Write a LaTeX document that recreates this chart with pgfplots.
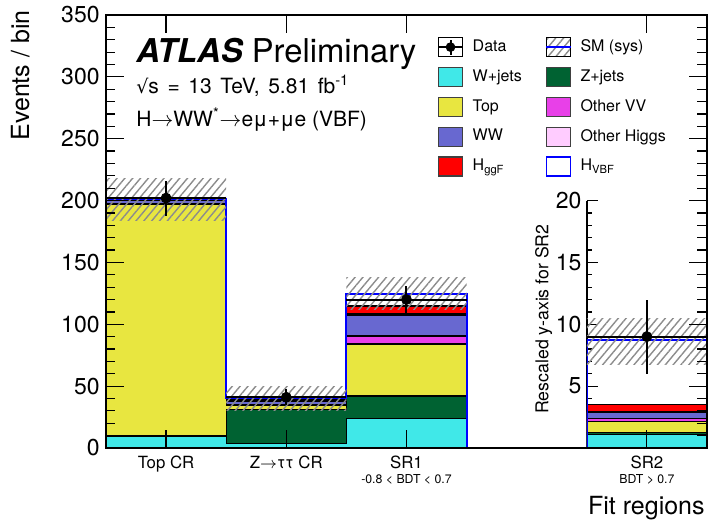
\documentclass[border=0pt]{standalone}
\usepackage{pgfplots}
\pgfplotsset{compat=1.18}
\usepackage{pgfplotstable}
\usepackage{fontspec}
\setmainfont{TeX Gyre Heros}
\newfontfamily\symfont{DejaVu Sans}
\usetikzlibrary{patterns.meta}

\definecolor{cWjets}{RGB}{64,232,232}
\definecolor{cZjets}{RGB}{0,98,50}
\definecolor{cTop}{RGB}{232,230,64}
\definecolor{cVV}{RGB}{232,64,232}
\definecolor{cWW}{RGB}{104,104,208}
\definecolor{cOH}{RGB}{255,204,255}
\definecolor{cggF}{RGB}{255,0,0}
\definecolor{cVBF}{RGB}{0,0,255}
\definecolor{cHatch}{RGB}{140,140,140}

% cumulative stack heights (upper edge of each component) at the left bin edges;
% the last row closes the last bin
\pgfplotstableread{
x  W     Z     Top    VV     WW     OH     ggF
0  9.0   9.8   197.3  197.7  200.2  200.3  200.7
1  3.8   30.8  34.8   35.4   37.9   38.1   38.9
2  24.0  42.0  84.0   90.5   107.3  108.3  114.8
3  24.0  42.0  84.0   90.5   107.3  108.3  114.8
}\stackmain
% total SM prediction (top of the H_VBF component)
\pgfplotstableread{
x  tot
0  201.0
1  40.1
2  124.8
3  0
4  0
}\totmain
\pgfplotstableread{
x    y    ex   ey
0.5  202  0.5  14.2
1.5  41   0.5  6.4
2.5  120  0.5  11.0
}\datamain

% SR2, in units of the rescaled axis
\pgfplotstableread{
x  W    Z     Top   VV    WW    OH    ggF
4  1.1  1.25  2.15  2.4   2.85  2.95  3.5
5  1.1  1.25  2.15  2.4   2.85  2.95  3.5
}\stacksr
\pgfplotstableread{
x  tot
4  0
4  8.7
5  8.7
}\totsr
\pgfplotstableread{
x    y    ex   ey
4.5  9.0  0.5  3.0
}\datasr

\pgfplotsset{
  stk/.style={const plot mark left, draw=black, line width=0.6bp, mark=none, forget plot},
  hatch/.style={draw=none, pattern={Lines[angle=50,distance=3bp,line width=0.7bp]}, pattern color=cHatch, forget plot},
  datapts/.style={black, only marks, mark=*, mark size=2.5bp, mark options={fill=black, draw=black}, forget plot,
    error bars/.cd, x dir=both, x explicit, y dir=both, y explicit,
    error bar style={line width=1bp, black}, error mark=none},
  boxleg/.style={legend image code/.code={\draw[line width=0.6bp, ##1] (0bp,-4.75bp) rectangle (12.2bp,4.75bp);}},
}

\begin{document}
\begin{tikzpicture}
\useasboundingbox (-53bp,-37.5bp) rectangle (301.5bp,224bp);

% SR2 bin with its own (rescaled) y axis
\begin{axis}[
  scale only axis, width=60.1bp, height=123.714bp,
  at={(240.4bp,0bp)}, anchor=south west,
  xmin=4, xmax=5, ymin=0, ymax=20,
  separate axis lines,
  x axis line style={draw=none},
  y axis line style={line width=0.75bp},
  xtick=\empty,
  ytick={0,5,...,20}, yticklabels={{},5,10,15,20},
  ytick pos=left,
  minor y tick num=4,
  tick align=inside,
  major tick length=5.5bp, minor tick length=2.75bp,
  every tick/.style={black, line width=0.6bp},
  yticklabel style={font=\fontsize{11.5bp}{13bp}\selectfont, inner sep=0pt, xshift=-2.5bp},
  /pgf/number format/assume math mode=true,
  every axis y label/.style={at={(axis description cs:-0.358,0.521)}, rotate=90, anchor=center, inner sep=0pt, font=\fontsize{8.85bp}{10bp}\selectfont},
  ylabel={Rescaled y-axis for SR2},
]
\addplot[stk, fill=cggF] table[x=x, y=ggF] {\stacksr} \closedcycle;
\addplot[stk, fill=cOH]  table[x=x, y=OH]  {\stacksr} \closedcycle;
\addplot[stk, fill=cWW]  table[x=x, y=WW]  {\stacksr} \closedcycle;
\addplot[stk, fill=cVV]  table[x=x, y=VV]  {\stacksr} \closedcycle;
\addplot[stk, fill=cTop] table[x=x, y=Top] {\stacksr} \closedcycle;
\addplot[stk, fill=cZjets] table[x=x, y=Z] {\stacksr} \closedcycle;
\addplot[stk, fill=cWjets] table[x=x, y=W] {\stacksr} \closedcycle;
\addplot[cVBF, line width=1bp, forget plot] table[x=x, y=tot] {\totsr};
% systematic band
\addplot[hatch] coordinates {(4,6.75) (5,6.75) (5,10.5) (4,10.5)} -- cycle;
\addplot[datapts] table[x=x, y=y, x error=ex, y error=ey] {\datasr};
\end{axis}

% main axis
\begin{axis}[
  scale only axis, width=300.5bp, height=216.5bp,
  at={(0bp,0bp)}, anchor=south west,
  xmin=0, xmax=5, ymin=0, ymax=350,
  axis on top,
  axis line style={line width=0.75bp},
  every tick/.style={black, line width=0.6bp},
  major tick length=9bp, minor tick length=4.75bp,
  tick align=inside,
  xtick={0.5,1.5,2.5,4.5},
  xticklabels={Top CR, {Z$\rightarrow$ττ CR},
    {SR1\\{\fontsize{6.15bp}{7bp}\selectfont -0.8 < BDT < 0.7}},
    {SR2\\{\fontsize{6.15bp}{7bp}\selectfont BDT > 0.7}}},
  xticklabel style={font=\fontsize{8.4bp}{7.6bp}\selectfont, align=center, inner sep=0pt, yshift=-3.75bp},
  ytick={0,50,...,350},
  minor y tick num=4,
  yticklabel style={font=\fontsize{11.5bp}{13bp}\selectfont, inner sep=0pt, xshift=-3bp},
  /pgf/number format/assume math mode=true,
  every axis y label/.style={at={(axis description cs:-0.1281,1.0115)}, rotate=90, anchor=base east, inner sep=0pt, font=\fontsize{12.5bp}{14bp}\selectfont},
  ylabel={Events / bin},
  every axis x label/.style={at={(axis description cs:0.9967,-0.1547)}, anchor=base east, inner sep=0pt, font=\fontsize{12.5bp}{14bp}\selectfont},
  xlabel={Fit regions},
  legend columns=2,
  legend cell align=left,
  legend style={at={(0.5513,0.9487)}, anchor=north west, draw=none, fill=none,
    inner sep=0pt, outer sep=0pt, row sep=4.85bp,
    font=\fontsize{8bp}{9.6bp}\selectfont, nodes={inner sep=0pt},
    /tikz/every odd column/.append style={column sep=4.5bp},
    /tikz/every even column/.append style={column sep=11.8bp}},
]
% stacked backgrounds and signals, drawn from the top of the stack down
\addplot[stk, fill=cggF] table[x=x, y=ggF] {\stackmain} \closedcycle;
\addplot[stk, fill=cOH]  table[x=x, y=OH]  {\stackmain} \closedcycle;
\addplot[stk, fill=cWW]  table[x=x, y=WW]  {\stackmain} \closedcycle;
\addplot[stk, fill=cVV]  table[x=x, y=VV]  {\stackmain} \closedcycle;
\addplot[stk, fill=cTop] table[x=x, y=Top] {\stackmain} \closedcycle;
\addplot[stk, fill=cZjets] table[x=x, y=Z] {\stackmain} \closedcycle;
\addplot[stk, fill=cWjets] table[x=x, y=W] {\stackmain} \closedcycle;
\addplot[cVBF, line width=1bp, const plot mark left, forget plot] table[x=x, y=tot] {\totmain};
% systematic uncertainty band, one box per bin
\addplot[hatch] coordinates {(0,184.0) (1,184.0) (1,218.0) (0,218.0)} -- cycle;
\addplot[hatch] coordinates {(1,30.1) (2,30.1) (2,50.1) (1,50.1)} -- cycle;
\addplot[hatch] coordinates {(2,111.8) (3,111.8) (3,137.8) (2,137.8)} -- cycle;
% data
\addplot[datapts] table[x=x, y=y, x error=ex, y error=ey] {\datamain};

\node[anchor=base west, inner sep=0pt, font=\fontsize{16.4bp}{19bp}\selectfont]
  at (rel axis cs:0.0499,0.8908) {{\bfseries\itshape ATLAS} Preliminary};
\node[anchor=base west, inner sep=0pt, font=\fontsize{10.5bp}{12bp}\selectfont]
  at (rel axis cs:0.0499,0.8192) {\spaceskip=4.3bp plus 1bp {\symfont\fontsize{9.5bp}{10bp}\selectfont √}s = 13 TeV, 5.81 fb\textsuperscript{-1}};
\node[anchor=base west, inner sep=0pt, font=\fontsize{10.5bp}{12bp}\selectfont]
  at (rel axis cs:0.0499,0.7420) {H$\rightarrow$WW\textsuperscript{*}$\rightarrow$eμ+μe (VBF)};

% legend
\addlegendimage{legend image code/.code={
  \path (0bp,-4.75bp) rectangle (12.2bp,4.75bp);
  \draw[black, line width=1bp] (0bp,0bp) -- (12.2bp,0bp) (6.1bp,-3.75bp) -- (6.1bp,3.75bp);
  \fill[black] (6.1bp,0bp) circle (2.2bp);}}
\addlegendentry{Data}
\addlegendimage{legend image code/.code={
  \fill[pattern={Lines[angle=50,distance=3bp,line width=0.7bp]}, pattern color=cHatch] (0bp,-4.75bp) rectangle (12.2bp,4.75bp);
  \draw[cVBF, line width=0.8bp] (0bp,0bp) -- (12.2bp,0bp);}}
\addlegendentry{SM (sys)}
\addlegendimage{boxleg, fill=cWjets, draw=black!75}
\addlegendentry{W+jets}
\addlegendimage{boxleg, fill=cZjets, draw=black!75}
\addlegendentry{Z+jets}
\addlegendimage{boxleg, fill=cTop, draw=black!75}
\addlegendentry{Top}
\addlegendimage{boxleg, fill=cVV, draw=black!75}
\addlegendentry{Other VV}
\addlegendimage{boxleg, fill=cWW, draw=black!75}
\addlegendentry{WW}
\addlegendimage{boxleg, fill=cOH, draw=black!75}
\addlegendentry{Other Higgs}
\addlegendimage{boxleg, fill=cggF, draw=black!75}
\addlegendentry{H\textsubscript{ggF}}
\addlegendimage{boxleg, fill=white, draw=cVBF, line width=1.5bp}
\addlegendentry{H\textsubscript{VBF}}
\end{axis}
\end{tikzpicture}
\end{document}
